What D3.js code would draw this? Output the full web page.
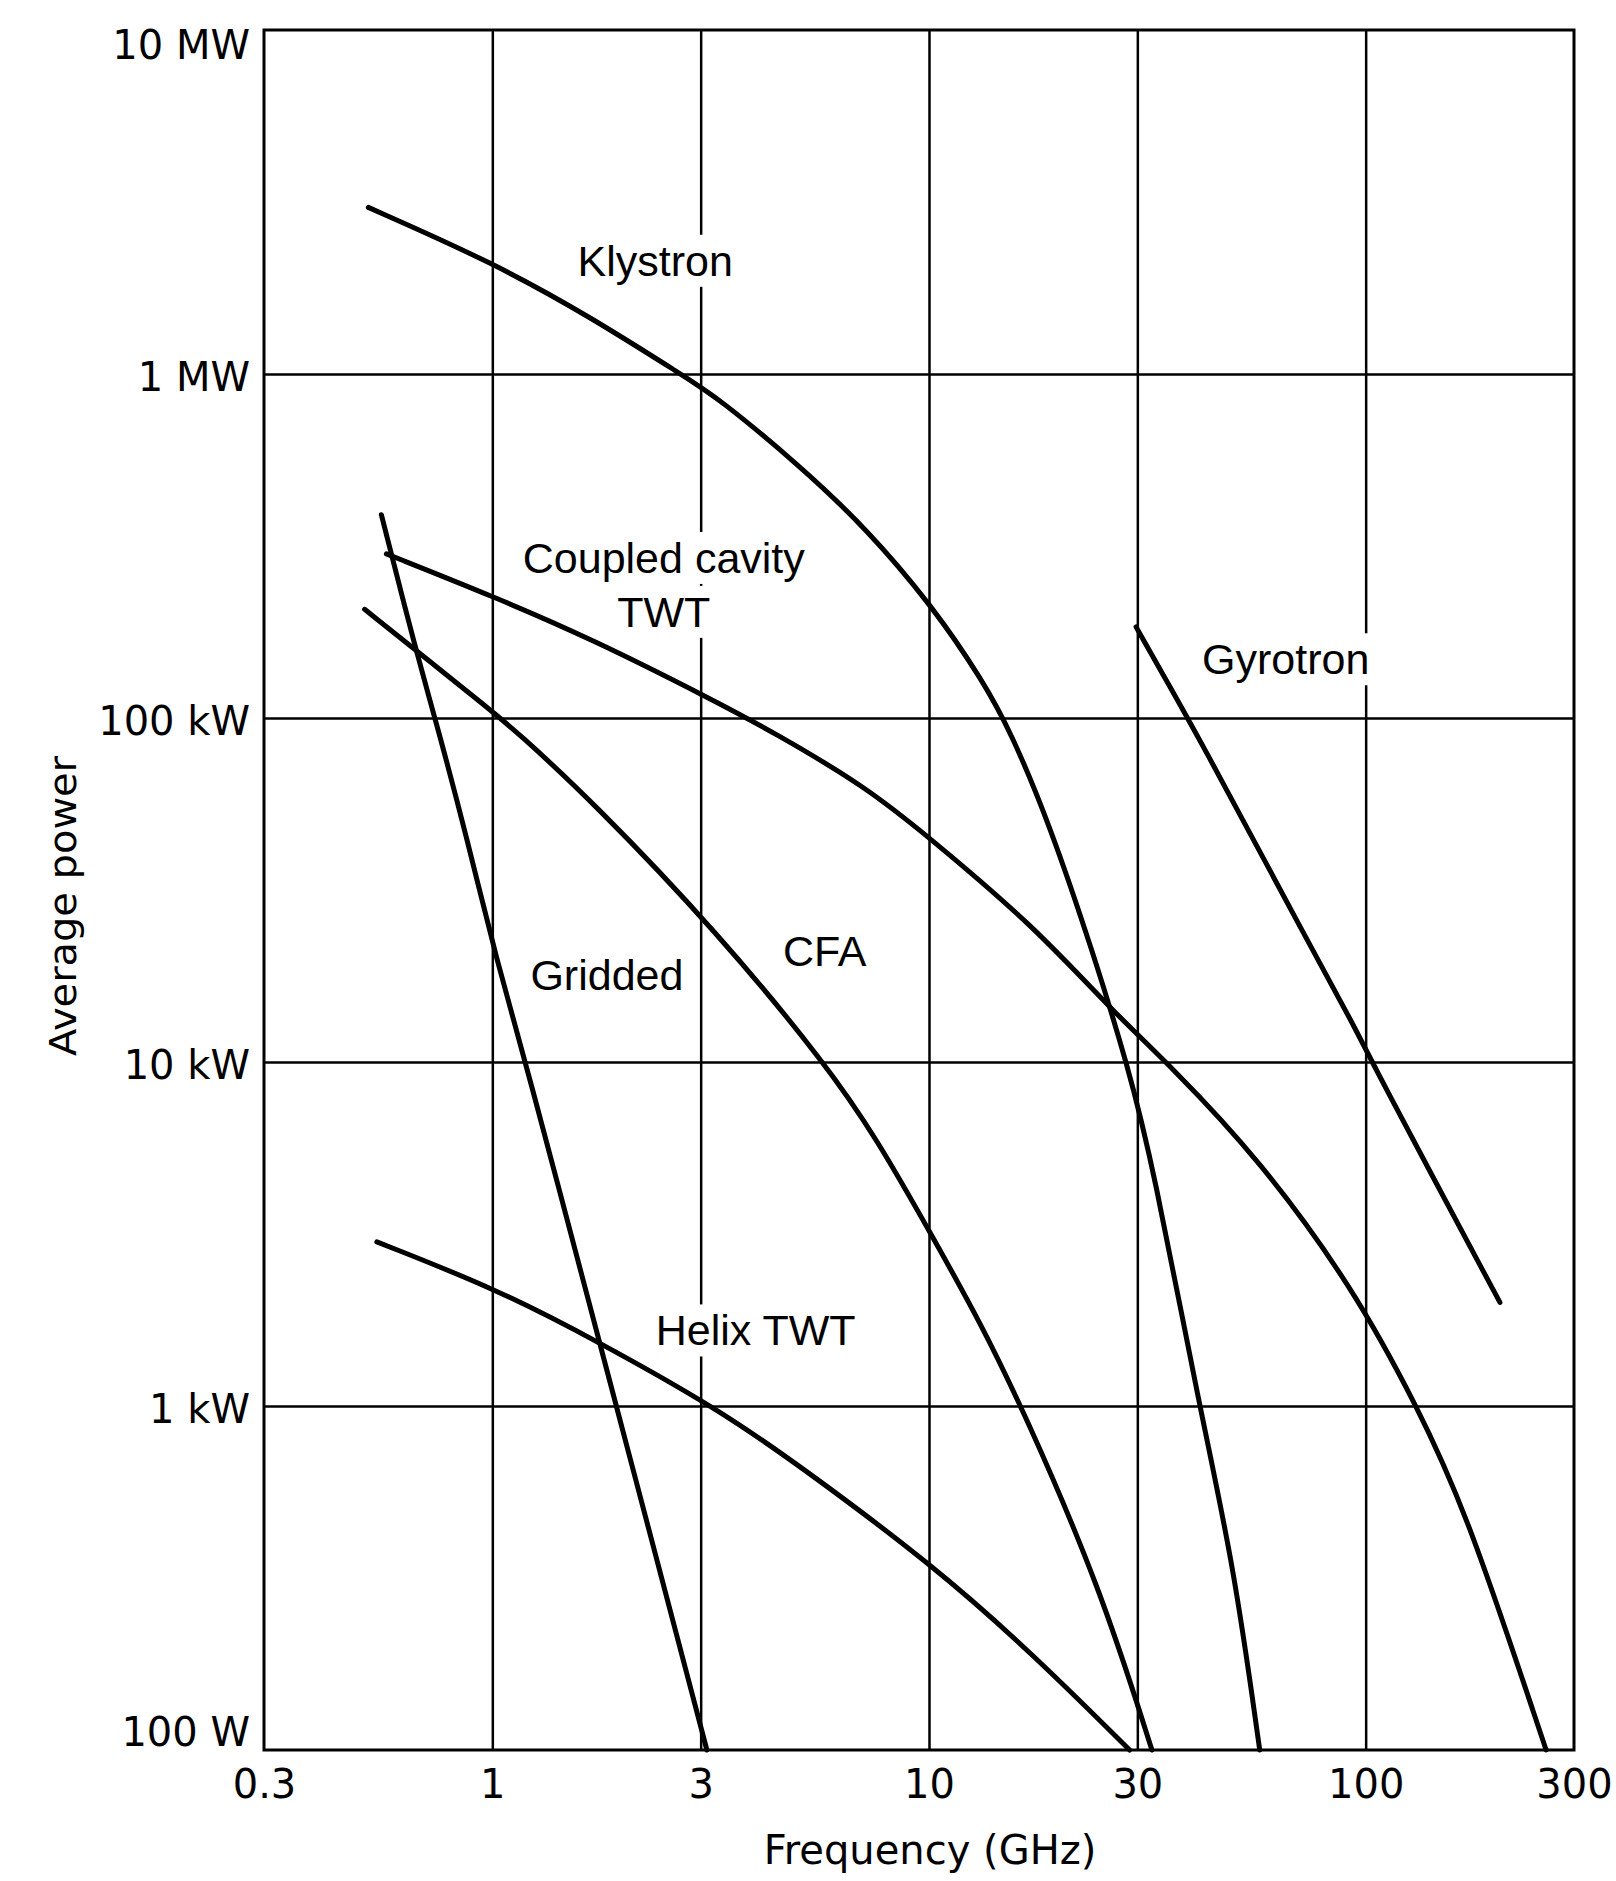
<!DOCTYPE html>
<html>
<head>
<meta charset="utf-8">
<script src="https://cdn.jsdelivr.net/npm/d3@7"></script>
<style>
  body { margin: 0; background: #fff; }
  .ticklabel { font-family: "DejaVu Sans", sans-serif; font-size: 40px; fill: #000; }
  .curvelabel { font-family: "Liberation Sans", Arial, sans-serif; font-size: 43px; fill: #000; }
  .title { font-family: "DejaVu Sans", sans-serif; fill: #000; }
</style>
</head>
<body>
<script>
// axis ticks
var freqTicks = [0.3, 1, 3, 10, 30, 100, 300];
var freqTickLabels = ["0.3", "1", "3", "10", "30", "100", "300"];
var powerTicks = [1e2, 1e3, 1e4, 1e5, 1e6, 1e7];
var powerTickLabels = ["100 W", "1 kW", "10 kW", "100 kW", "1 MW", "10 MW"];

// frequency (GHz) and average power (W)
var klystronF = [0.52, 1.01, 1.70, 2.73, 3.26, 5.07, 7.18, 10.2, 13.3, 15.4, 18.9, 23.7, 28.5, 32.6, 41.7, 49.8, 57.2];
var klystronP = [3.05e6, 2.1e6, 1.45e6, 9.9e5, 8.6e5, 5.4e5, 3.56e5, 2.11e5, 1.28e5, 9.1e4, 4.9e4, 2.1e4, 9.8e3, 5.0e3, 980, 350, 100];

var coupledF = [0.572, 1.01, 1.70, 3.15, 4.40, 7.18, 10.0, 17.3, 26.4, 35.6, 57.2, 93.7, 131, 170, 259];
var coupledP = [3.0e5, 2.25e5, 1.69e5, 1.14e5, 9.1e4, 6.3e4, 4.5e4, 2.5e4, 1.4e4, 9.8e3, 5.2e3, 2.2e3, 1.0e3, 495, 100];

var griddedF = [0.557, 0.670, 0.746, 0.874, 1.02, 1.20, 1.73, 1.94, 3.10];
var griddedP = [3.9e5, 1.55e5, 9.6e4, 4.5e4, 2.0e4, 9.7e3, 1.66e3, 960, 100];

var cfaF = [0.510, 0.670, 0.985, 1.14, 1.70, 3.26, 5.83, 7.58, 10.2, 13.1, 16.4, 24.6, 32.4];
var cfaP = [2.07e5, 1.57e5, 1.06e5, 9.1e4, 5.7e4, 2.4e4, 9.8e3, 6.0e3, 3.1e3, 1.75e3, 980, 300, 100];

var helixF = [0.544, 1.02, 1.73, 3.29, 5.06, 10.2, 17.3, 28.8];
var helixP = [3.0e3, 2.19e3, 1.55e3, 980, 670, 345, 190, 100];

var gyrotronF = [29.8, 32.9, 40.9, 75.7, 94.3, 104, 203];
var gyrotronP = [1.84e5, 1.47e5, 9.1e4, 2.1e4, 1.27e4, 9.8e3, 2.0e3];

// curve names, anchored in data units (centre x, baseline)
var labelText = ["Klystron", "Coupled cavity", "TWT", "Gyrotron", "Gridded", "CFA", "Helix TWT"];
var labelF = [2.36, 2.47, 2.47, 65.6, 1.83, 5.77, 4.01];
var labelP = [1.93e6, 2.64e5, 1.84e5, 1.34e5, 1.62e4, 1.90e4, 1.50e3];

var series = [
  {name: "Klystron", f: klystronF, p: klystronP},
  {name: "Coupled cavity TWT", f: coupledF, p: coupledP},
  {name: "Gridded", f: griddedF, p: griddedP},
  {name: "CFA", f: cfaF, p: cfaP},
  {name: "Helix TWT", f: helixF, p: helixP},
  {name: "Gyrotron", f: gyrotronF, p: gyrotronP}
];

var margin = {top: 30, right: 42, bottom: 131, left: 264},
    width = 1616 - margin.left - margin.right,
    height = 1881 - margin.top - margin.bottom;

var x = d3.scaleLog().domain([0.3, 300]).range([0, width]);
var y = d3.scaleLog().domain([100, 1e7]).range([height, 0]);

var svg = d3.select("body").append("svg")
    .attr("width", width + margin.left + margin.right)
    .attr("height", height + margin.top + margin.bottom)
  .append("g")
    .attr("transform", "translate(" + margin.left + "," + margin.top + ")");

// grid lines
var gx = svg.append("g")
    .attr("transform", "translate(0," + height + ")")
    .call(d3.axisBottom(x).tickValues(freqTicks.slice(1, -1)).tickSize(-height).tickFormat(""));
var gy = svg.append("g")
    .call(d3.axisLeft(y).tickValues(powerTicks.slice(1, -1)).tickSize(-width).tickFormat(""));
[gx, gy].forEach(function(g) {
  g.select(".domain").remove();
  g.selectAll("line").attr("stroke", "#000").attr("stroke-width", 2.5);
});

var bg = svg.append("g");

svg.append("rect")
    .attr("width", width)
    .attr("height", height)
    .attr("fill", "none")
    .attr("stroke", "#000")
    .attr("stroke-width", 3);

// tick labels
var xa = svg.append("g")
    .attr("transform", "translate(0," + height + ")")
    .call(d3.axisBottom(x).tickValues(freqTicks).tickSize(0)
      .tickFormat(function(d, i) { return freqTickLabels[i]; }));
xa.select(".domain").remove();
xa.selectAll("text").attr("class", "ticklabel").attr("y", 48).attr("dy", null);

var ya = svg.append("g")
    .call(d3.axisLeft(y).tickValues(powerTicks).tickSize(0).tickPadding(14)
      .tickFormat(function(d, i) { return powerTickLabels[i]; }));
ya.select(".domain").remove();
ya.selectAll("text").attr("class", "ticklabel")
    .attr("dy", function(d) { return d == 1e7 ? "0.72em" : d == 100 ? "-0.12em" : "0.4em"; });

// curves
var line = d3.line()
    .x(function(d) { return x(d[0]); })
    .y(function(d) { return y(d[1]); })
    .curve(d3.curveBasis);

svg.append("g").selectAll("path")
    .data(series)
    .enter().append("path")
    .attr("fill", "none")
    .attr("stroke", "#000")
    .attr("stroke-width", 5)
    .attr("stroke-linecap", "round")
    .attr("d", function(s) { return line(s.f.map(function(f, i) { return [f, s.p[i]]; })); });

// curve labels with a white patch under them (grid lines break there)
var labels = svg.append("g").selectAll("text")
    .data(labelText)
    .enter().append("text")
    .attr("class", "curvelabel")
    .attr("text-anchor", "middle")
    .attr("x", function(d, i) { return x(labelF[i]); })
    .attr("y", function(d, i) { return y(labelP[i]); })
    .text(function(d) { return d; });

labels.each(function() {
  var b = this.getBBox();
  bg.append("rect")
    .attr("x", b.x - 6).attr("y", b.y - 2)
    .attr("width", b.width + 12).attr("height", b.height + 4)
    .attr("fill", "#fff");
});

// axis titles
svg.append("text")
    .attr("class", "title")
    .attr("font-size", 40)
    .attr("text-anchor", "middle")
    .attr("x", width / 2 + 11)
    .attr("y", height + 114)
    .text("Frequency (GHz)");

svg.append("text")
    .attr("class", "title")
    .attr("font-size", 37)
    .attr("text-anchor", "middle")
    .attr("textLength", 300)
    .attr("lengthAdjust", "spacingAndGlyphs")
    .attr("transform", "rotate(-90)")
    .attr("x", -(height / 2 + 16))
    .attr("y", -201)
    .attr("dy", "0.35em")
    .text("Average power");
</script>
</body>
</html>
